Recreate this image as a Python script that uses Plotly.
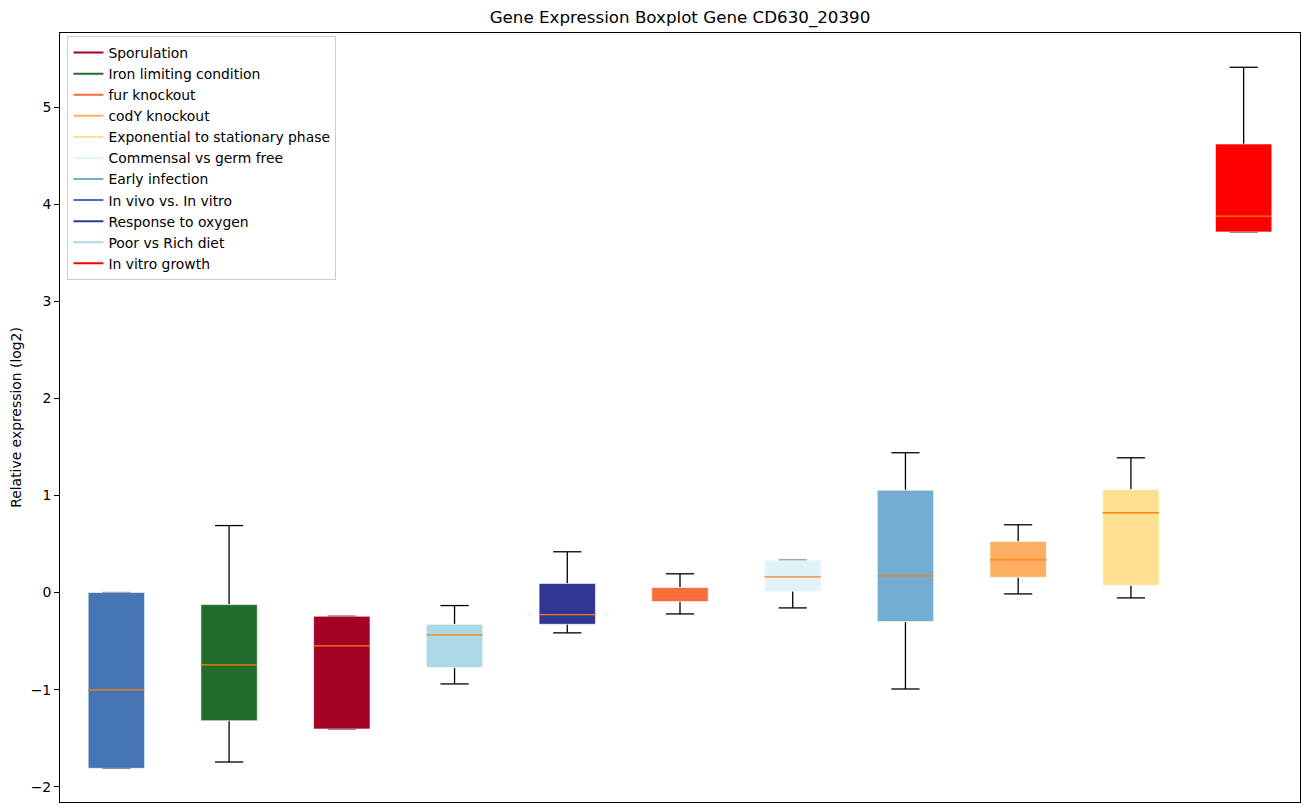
import plotly.graph_objects as go

# Box order left-to-right
box_names = ["In vivo vs. In vitro", "Iron limiting condition", "Sporulation", "Poor vs Rich diet",
             "Response to oxygen", "fur knockout", "Commensal vs germ free", "Early infection",
             "codY knockout", "Exponential to stationary phase", "In vitro growth"]
low_whisker = [-1.81, -1.745, -1.405, -0.941, -0.415, -0.22, -0.158, -0.993, -0.014, -0.055, 3.714]
q1 = [-1.81, -1.32, -1.405, -0.773, -0.327, -0.093, 0.014, -0.299, 0.158, 0.075, 3.714]
median = [-1.003, -0.745, -0.55, -0.436, -0.227, -0.014, 0.162, 0.172, 0.337, 0.822, 3.876]
q3 = [0.0, -0.124, -0.244, -0.327, 0.093, 0.052, 0.333, 1.055, 0.526, 1.062, 4.62]
high_whisker = [0.0, 0.69, -0.244, -0.134, 0.42, 0.193, 0.333, 1.44, 0.698, 1.388, 5.41]

# Legend order and colours
legend_names = ["Sporulation", "Iron limiting condition", "fur knockout", "codY knockout",
                "Exponential to stationary phase", "Commensal vs germ free", "Early infection",
                "In vivo vs. In vitro", "Response to oxygen", "Poor vs Rich diet", "In vitro growth"]
colors = {
    "Sporulation": "#a50026",
    "Iron limiting condition": "#246c2e",
    "fur knockout": "#f46d43",
    "codY knockout": "#fdae61",
    "Exponential to stationary phase": "#fee090",
    "Commensal vs germ free": "#e0f3f8",
    "Early infection": "#74add1",
    "In vivo vs. In vitro": "#4575b4",
    "Response to oxygen": "#313695",
    "Poor vs Rich diet": "#add8e6",
    "In vitro growth": "#ff0000",
}

BOX_W = 0.5
CAP_W = 0.25
positions = list(range(1, len(box_names) + 1))

fig = go.Figure()

# whiskers and caps
wx, wy = [], []
for p, lo, a, b, hi in zip(positions, low_whisker, q1, q3, high_whisker):
    wx += [p, p, None, p, p, None]
    wy += [a, lo, None, b, hi, None]
    wx += [p - CAP_W / 2, p + CAP_W / 2, None, p - CAP_W / 2, p + CAP_W / 2, None]
    wy += [lo, lo, None, hi, hi, None]
fig.add_trace(go.Scatter(x=wx, y=wy, mode="lines", line=dict(color="black", width=1.3),
                         showlegend=False, hoverinfo="skip"))

# boxes
for p, name, a, b in zip(positions, box_names, q1, q3):
    fig.add_trace(go.Scatter(
        x=[p - BOX_W / 2, p + BOX_W / 2, p + BOX_W / 2, p - BOX_W / 2, p - BOX_W / 2],
        y=[a, a, b, b, a], mode="lines", fill="toself", fillcolor=colors[name],
        line=dict(color="rgba(255,255,255,0.6)", width=1), showlegend=False, hoverinfo="skip"))

# medians
mx, my = [], []
for p, m in zip(positions, median):
    mx += [p - BOX_W / 2, p + BOX_W / 2, None]
    my += [m, m, None]
fig.add_trace(go.Scatter(x=mx, y=my, mode="lines", line=dict(color="#ff7f0e", width=1.3),
                         showlegend=False, hoverinfo="skip"))

# legend entries
for name in legend_names:
    fig.add_trace(go.Scatter(x=[None], y=[None], mode="lines", name=name,
                             line=dict(color=colors[name], width=2)))

# page body has an 8px margin, so the figure is shrunk by 8px to fill the window
fig.update_layout(
    width=1301, height=804,
    margin=dict(l=52, r=9, t=25, b=10, autoexpand=False),
    paper_bgcolor="white", plot_bgcolor="white",
    font=dict(family="DejaVu Sans", size=13.9, color="black"),
    title=dict(text="Gene Expression Boxplot Gene CD630_20390", x=0.5, xanchor="center",
               xref="paper", y=1 - 9 / 804, yanchor="middle", font=dict(size=16.7)),
    xaxis=dict(range=[0.5, 11.5], showticklabels=False, ticks="", showgrid=False, zeroline=False,
               showline=True, linecolor="black", linewidth=1, mirror=True),
    yaxis=dict(range=[-2.157, 5.763], tickvals=[-2, -1, 0, 1, 2, 3, 4, 5], ticks="outside",
               ticklen=5, tickcolor="black", showgrid=False, zeroline=False, automargin=False,
               showline=True, linecolor="black", linewidth=1, mirror=True,
               title=dict(text="Relative expression (log2)", standoff=10, font=dict(size=13.9))),
    legend=dict(x=0.006, y=0.996, xanchor="left", yanchor="top", bordercolor="#cccccc",
                borderwidth=1, bgcolor="rgba(255,255,255,0.8)", font=dict(size=13.9)),
    showlegend=True,
)

fig.write_html("out.html")
